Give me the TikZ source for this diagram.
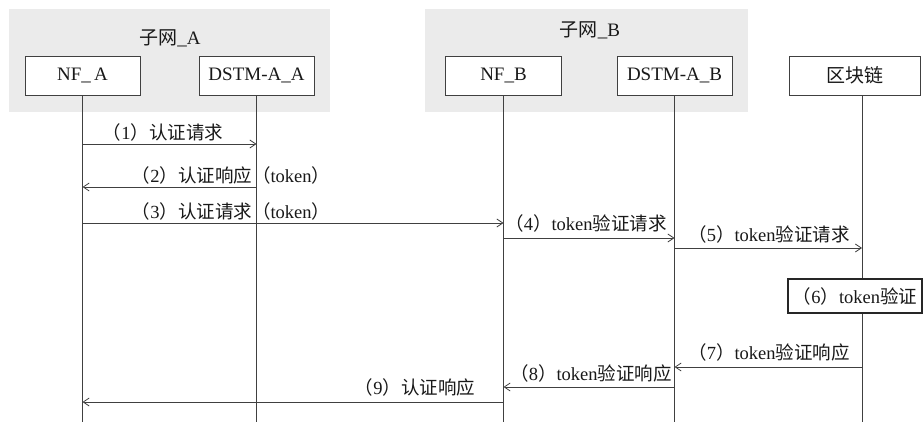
\documentclass[tikz,border=0pt]{standalone}
\usepackage{fontspec}
\setmainfont{Liberation Serif}
\newfontfamily\cjk{Noto Sans CJK SC}
\usetikzlibrary{arrows.meta}
\newcommand\lp{{\cjk （}}
\newcommand\rp{{\cjk ）}}
\begin{document}
\begin{tikzpicture}[x=1pt,y=-1pt,
 panel/.style={fill=black!8, draw=none, inner sep=0pt, anchor=north west},
 actor/.style={draw=black!75, line width=0.9pt, minimum height=39pt, fill=white, inner sep=0pt, font=\fontsize{19}{21}\selectfont, text=black!90},
 life/.style={draw=black!75, line width=0.9pt},
 msg/.style={draw=black!75, line width=0.8pt, -{Straight Barb[length=6pt,width=8pt]}},
 lbl/.style={font=\fontsize{18.5}{20}\selectfont, inner sep=0pt, text=black!90},
 ttl/.style={font=\fontsize{19}{21}\selectfont, inner sep=0pt, text=black!90}]

\useasboundingbox (0,0) rectangle (923,425);
\fill[white] (0,0) rectangle (923,425);

% panels
\node[panel, minimum width=321pt, minimum height=103pt] (pa) at (9,9) {};
\node[panel, minimum width=323pt, minimum height=103pt] (pb) at (425,9) {};
\node[ttl] (ta) at (170,38) {{\cjk 子网}\_A};
\node[ttl] (tb) at (590,30) {{\cjk 子网}\_B};

% actors
\node[actor, minimum width=115pt] (nfa) at (82.5,75.5) {NF\_\,A};
\node[actor, minimum width=115pt] (dsa) at (256.5,75.5) {DSTM-A\_A};
\node[actor, minimum width=116pt] (nfb) at (503.5,75.5) {NF\_B};
\node[actor, minimum width=115pt] (dsb) at (674.5,75.5) {DSTM-A\_B};
\node[actor, minimum width=131pt] (bc) at (854.5,75.5) {\cjk 区块链};

% lifelines
\coordinate (bcs) at ([xshift=7.5pt]bc.south);
\draw[life] (nfa.south) -- (nfa.south |- 0,422);
\draw[life] (dsa.south) -- (dsa.south |- 0,422);
\draw[life] (nfb.south) -- (nfb.south |- 0,422);
\draw[life] (dsb.south) -- (dsb.south |- 0,422);
\draw[life] (bcs) -- (bcs |- 0,422);

% step 6 box
\node[draw=black!85, line width=1.1pt, fill=white, minimum width=134pt, minimum height=34pt, inner sep=0pt, font=\fontsize{18.5}{20}\selectfont, text=black!90] (s6) at (855,296) {\lp 6\rp token{\cjk 验证}};

% messages
\draw[msg] (nfa.south |- 0,144) -- (dsa.south |- 0,144);
\draw[msg] (dsa.south |- 0,187) -- (nfa.south |- 0,187);
\draw[msg] (nfa.south |- 0,223) -- (nfb.south |- 0,223);
\draw[msg] (nfb.south |- 0,238) -- (dsb.south |- 0,238);
\draw[msg] (dsb.south |- 0,248) -- (bcs |- 0,248);
\draw[msg] (bcs |- 0,367) -- (dsb.south |- 0,367);
\draw[msg] (dsb.south |- 0,387) -- (nfb.south |- 0,387);
\draw[msg] (nfb.south |- 0,402) -- (nfa.south |- 0,402);

% labels
\node[lbl] (l1) at (163,132) {\lp 1\rp{\cjk 认证请求}};
\node[lbl] (l2) at (231,175) {\lp 2\rp{\cjk 认证响应}\lp token\rp};
\node[lbl] (l3) at (231,211) {\lp 3\rp{\cjk 认证请求}\lp token\rp};
\node[lbl] (l4) at (586,223) {\lp 4\rp token{\cjk 验证请求}};
\node[lbl] (l5) at (769,234) {\lp 5\rp token{\cjk 验证请求}};
\node[lbl] (l7) at (769,352) {\lp 7\rp token{\cjk 验证响应}};
\node[lbl] (l8) at (591,373) {\lp 8\rp token{\cjk 验证响应}};
\node[lbl] (l9) at (415,387) {\lp 9\rp{\cjk 认证响应}};
\end{tikzpicture}
\end{document}
